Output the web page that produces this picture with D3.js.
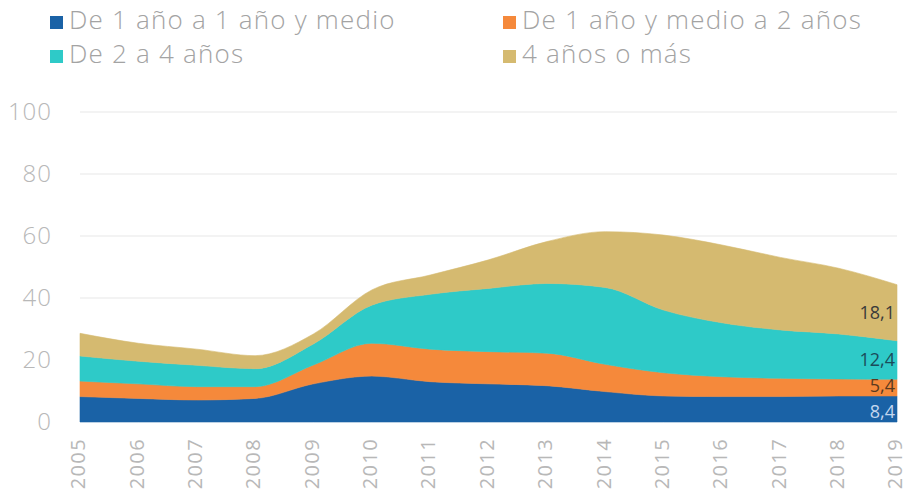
<!DOCTYPE html>
<html><head><meta charset="utf-8">
<script src="https://cdn.jsdelivr.net/npm/d3@7"></script>
<style>
html,body{margin:0;padding:0;background:#fff;}
svg{display:block;font-family:"Open Sans","Lato",sans-serif;}
</style></head>
<body>
<svg id="chart" width="907" height="499"></svg>
<script>
const years = [2005,2006,2007,2008,2009,2010,2011,2012,2013,2014,2015,2016,2017,2018,2019];
const seriesNames = ["De 1 año a 1 año y medio","De 1 año y medio a 2 años","De 2 a 4 años","4 años o más"];
const s1 = [8.2,7.6,7.1,7.6,12.3,14.8,13.0,12.3,11.7,9.8,8.4,8.2,8.2,8.4,8.4];
const s2 = [5.0,4.7,4.3,3.8,6.1,10.6,10.5,10.4,10.5,8.8,7.5,6.4,5.9,5.5,5.4];
const s3 = [8.1,7.3,6.9,5.8,6.8,12.3,17.7,20.4,22.5,24.8,20.2,17.4,15.6,14.5,12.4];
const s4 = [7.3,5.8,5.2,4.2,3.2,4.9,6.2,9.2,13.5,18.0,24.2,25.1,23.4,21.2,18.1];
const yTicks = [0,20,40,60,80,100];
const endLabels = ["8,4","5,4","12,4","18,1"];
const colors = ["#1a62a6","#f5893b","#2ecac8","#d5ba70"];
const labelColors = ["#c3d6ee","#5b3a1e","#1b4c5a","#3a3a3a"];

const keys = ["a","b","c","d"];
const table = years.map((y,i)=>({year:y,a:s1[i],b:s2[i],c:s3[i],d:s4[i]}));

const svg = d3.select("#chart");
const x = d3.scaleLinear().domain([2005,2019]).range([80,897]);
const y = d3.scaleLinear().domain([0,100]).range([422,112]);

// gridlines
svg.append("g").selectAll("line").data(yTicks.filter(t=>t>0)).join("line")
  .attr("x1",80).attr("x2",897)
  .attr("y1",d=>y(d)).attr("y2",d=>y(d))
  .attr("stroke","#efefef").attr("stroke-width",1.5);

// y axis
const yAxis = d3.axisLeft(y).tickValues(yTicks).tickSize(0).tickPadding(0);
const gy = svg.append("g").attr("transform","translate(52,0)").call(yAxis);
gy.select(".domain").remove();
gy.selectAll("text").attr("font-size",24).attr("fill","#b8b8b8")
  .attr("letter-spacing",1)
  .attr("font-family","'Open Sans',sans-serif").attr("font-weight",300);

// stacked areas
const stack = d3.stack().keys(keys);
const layers = stack(table);
const area = d3.area().curve(d3.curveMonotoneX)
  .x(d=>x(d.data.year)).y0(d=>y(d[0])).y1(d=>y(d[1]));
svg.append("g").selectAll("path").data(layers).join("path")
  .attr("d",area).attr("fill",(d,i)=>colors[i])
  .attr("stroke",(d,i)=>colors[i]).attr("stroke-width",0.6);

// x axis
const xAxis = d3.axisBottom(x).tickValues(years).tickFormat(d3.format("d")).tickSize(0).tickPadding(0);
const gx = svg.append("g").attr("transform","translate(-2,438)").call(xAxis);
gx.select(".domain").remove();
gx.selectAll("text")
  .attr("transform","rotate(-90)")
  .attr("text-anchor","end")
  .attr("x",0).attr("y",0).attr("dy","0.34em")
  .attr("font-size",20).attr("letter-spacing",1.4).attr("fill","#b8b8b8")
  .attr("font-family","'Open Sans',sans-serif");

// end labels
const last = layers.map(l=>l[l.length-1]);
const labelShift = [3,-1,0,0];
svg.append("g").selectAll("text").data(last).join("text")
  .attr("x",895)
  .attr("y",(d,i)=> y((d[0]+d[1])/2) + 1 + labelShift[i])
  .attr("text-anchor","end").attr("dominant-baseline","middle")
  .attr("font-size",18).attr("fill",(d,i)=>labelColors[i])
  .text((d,i)=>endLabels[i]);

// legend
const legendPos = [[50,22],[503,22],[50,56],[503,56]];
const lg = svg.append("g").selectAll("g").data(seriesNames).join("g")
  .attr("transform",(d,i)=>`translate(${legendPos[i][0]},${legendPos[i][1]})`);
lg.append("rect").attr("x",0).attr("y",-6).attr("width",13).attr("height",13)
  .attr("fill",(d,i)=>colors[i]);
lg.append("text").attr("x",19).attr("y",0).attr("dominant-baseline","middle")
  .attr("font-size",26).attr("letter-spacing",1.2).attr("fill","#a3a3a3").attr("font-weight",300)
  .text(d=>d);
</script>
</body></html>
